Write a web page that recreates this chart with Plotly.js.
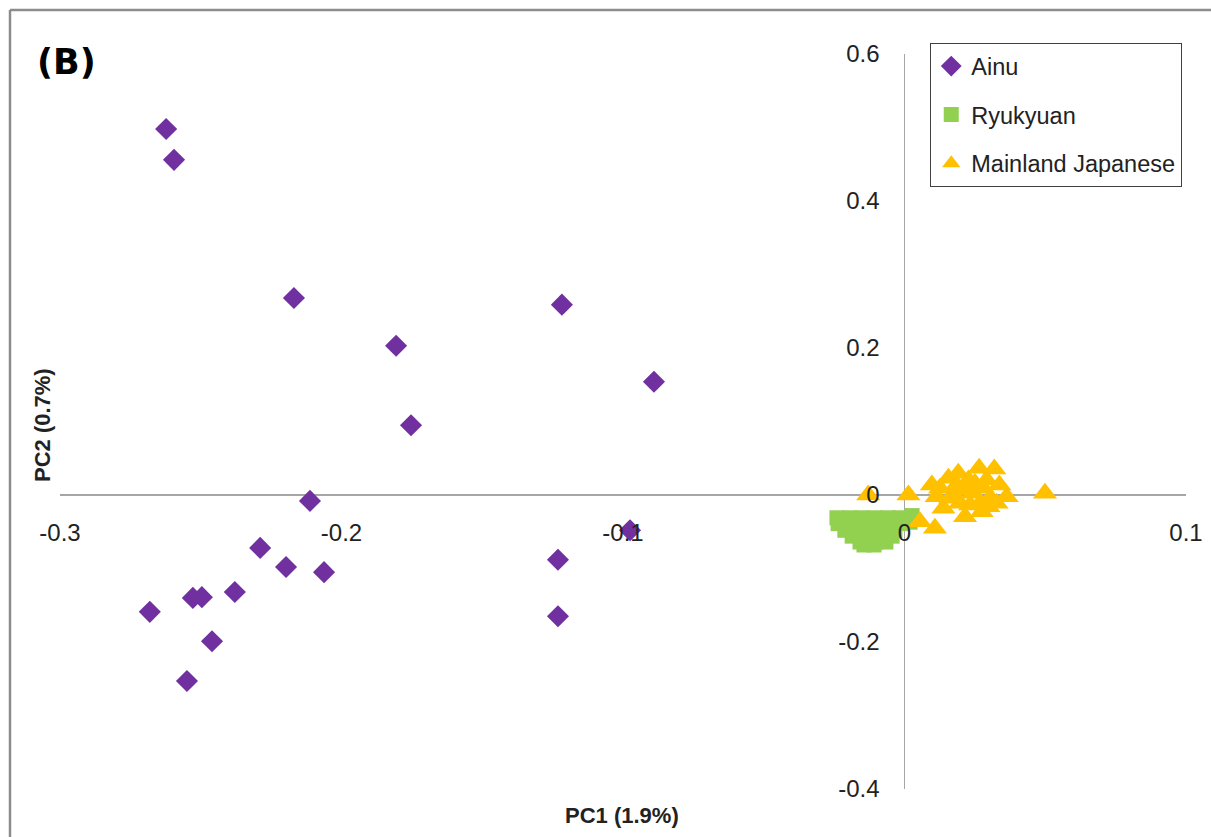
<!DOCTYPE html>
<html>
<head>
<meta charset="utf-8">
<script src="https://cdn.plot.ly/plotly-3.0.1.min.js"></script>
<style>html,body{margin:0;padding:0;background:#fff;}#chart{width:1211px;height:837px;}</style>
</head>
<body>
<div id="chart"></div>
<script>
// ---- Data ----
var ainuPC1 = [-0.2623, -0.2595, -0.2169, -0.1806, -0.1753, -0.1217, -0.0890,
               -0.2112, -0.0975, -0.1231, -0.1231,
               -0.2289, -0.2197, -0.2062, -0.2379, -0.2528, -0.2496, -0.2681, -0.2460, -0.2549];
var ainuPC2 = [0.498, 0.456, 0.268, 0.203, 0.095, 0.259, 0.154,
               -0.008, -0.048, -0.088, -0.165,
               -0.072, -0.098, -0.105, -0.132, -0.140, -0.139, -0.159, -0.199, -0.253];

var ryukyuanPC1 = [-0.0240, -0.0194, -0.0151, -0.0105, -0.0059, -0.0016, 0.0027,
                   -0.0236, -0.0201, -0.0165, -0.0130, -0.0094, -0.0052, -0.0009, 0.0020,
                   -0.0212, -0.0176, -0.0140, -0.0105, -0.0069, -0.0034,
                   -0.0186, -0.0151, -0.0115, -0.0080, -0.0044,
                   -0.0158, -0.0130, -0.0101, -0.0066,
                   -0.0144, -0.0108];
var ryukyuanPC2 = [-0.031, -0.031, -0.031, -0.031, -0.031, -0.031, -0.028,
                   -0.039, -0.039, -0.039, -0.039, -0.039, -0.039, -0.039, -0.037,
                   -0.048, -0.048, -0.048, -0.048, -0.048, -0.048,
                   -0.056, -0.056, -0.056, -0.056, -0.056,
                   -0.064, -0.064, -0.064, -0.064,
                   -0.068, -0.068];

var japanesePC1 = [0.0014, 0.0097, 0.0126, 0.0156, 0.0191, 0.0227, 0.0265, 0.0319, 0.0337, 0.0363,
                   0.0499, 0.0173, 0.0209, 0.0244, 0.0280, 0.0304, 0.0197, 0.0233, 0.0268, 0.0298,
                   0.0138, 0.0215, 0.0274, 0.0327, 0.0162, 0.0114, 0.0055, 0.0108, -0.0129, 0.0250,
                   0.0292, 0.0185];
var japanesePC2 = [0.000, 0.0136, 0.0091, 0.0227, 0.0295, 0.0204, 0.0363, 0.0354, 0.0136, -0.0023,
                   0.0023, 0.000, 0.0068, 0.0023, 0.0091, -0.0045, -0.0113, -0.0136, -0.0113, -0.0159,
                   -0.0181, -0.0295, -0.0227, -0.0113, -0.0045, -0.0023, -0.0363, -0.0454, 0.000, 0.0159,
                   0.0204, 0.0136];

var seriesNames = ['Ainu', 'Ryukyuan', 'Mainland Japanese'];
var xTickVals = [-0.3, -0.2, -0.1, 0, 0.1];
var xTickText = ['-0.3', '-0.2', '-0.1', '0', '0.1'];
var yTickVals = [-0.4, -0.2, 0, 0.2, 0.4, 0.6];
var yTickText = ['-0.4', '-0.2', '0', '0.2', '0.4', '0.6'];

var FONT = 'Liberation Sans, Arial, sans-serif';

var traces = [
  {x: ainuPC1, y: ainuPC2, name: seriesNames[0], type: 'scatter', mode: 'markers', legendgroup: 'a',
   marker: {symbol: 'diamond', size: 17, color: '#7030a0'}},
  {x: ryukyuanPC1, y: ryukyuanPC2, name: seriesNames[1], type: 'scatter', mode: 'markers', legendgroup: 'b',
   marker: {symbol: 'square', size: 15, color: '#92d050'}},
  {x: japanesePC1, y: japanesePC2, name: seriesNames[2], type: 'scatter', mode: 'markers', legendgroup: 'c',
   marker: {symbol: 'triangle-up', size: 21, color: '#ffc000'}}
];

var layout = {
  width: 1211, height: 837,
  margin: {l: 60, r: 25, t: 54, b: 48},
  paper_bgcolor: '#ffffff', plot_bgcolor: '#ffffff',
  showlegend: true,
  hovermode: false,
  font: {family: FONT, color: '#222222', size: 24},
  xaxis: {
    range: [-0.3, 0.1], domain: [0, 1], anchor: 'free', position: 0.4,
    tickvals: xTickVals, ticktext: xTickText, ticks: '', showgrid: false,
    showline: false, zeroline: true, zerolinecolor: '#a6a6a6', zerolinewidth: 1.3,
    tickfont: {family: FONT, size: 24, color: '#222222'}, ticklabelstandoff: 21
  },
  yaxis: {
    range: [-0.4, 0.6], domain: [0, 1], anchor: 'free', position: 0.75,
    tickvals: yTickVals, ticktext: yTickText, ticks: '', showgrid: false,
    showline: false, zeroline: true, zerolinecolor: '#a6a6a6', zerolinewidth: 1.3,
    tickfont: {family: FONT, size: 24, color: '#222222'}, ticklabelstandoff: 25
  },
  legend: {
    x: 0.7726, y: 1.015, xanchor: 'left', yanchor: 'top',
    bgcolor: '#ffffff', bordercolor: '#404040', borderwidth: 1.3,
    font: {family: FONT, size: 23.5, color: '#222222'},
    traceorder: 'grouped', tracegroupgap: 15, itemwidth: 30
  },
  annotations: [
    {text: '<b>(B)</b>', xref: 'paper', yref: 'paper', x: 0.0062, y: 0.989,
     xanchor: 'center', yanchor: 'middle', showarrow: false,
     font: {family: 'DejaVu Sans, sans-serif', size: 35, color: '#000000'}},
    {text: '<b>PC1 (1.9%)</b>', xref: 'paper', yref: 'paper', x: 0.499, y: -0.0354,
     xanchor: 'center', yanchor: 'middle', showarrow: false,
     font: {family: FONT, size: 22, color: '#222222'}},
    {text: '<b>PC2 (0.7%)</b>', xref: 'paper', yref: 'paper', x: -0.016, y: 0.4952,
     xanchor: 'center', yanchor: 'middle', showarrow: false, textangle: -90,
     font: {family: FONT, size: 22, color: '#222222'}}
  ],
  shapes: [
    {type: 'line', xref: 'paper', yref: 'paper', x0: -0.0444, x1: -0.0444, y0: 1.06, y1: -0.2,
     line: {color: '#8c8c8c', width: 2.5}},
    {type: 'line', xref: 'paper', yref: 'paper', x0: -0.0444, x1: 1.2, y0: 1.06, y1: 1.06,
     line: {color: '#8c8c8c', width: 2.5}}
  ]
};

Plotly.newPlot('chart', traces, layout, {displayModeBar: false, staticPlot: true});
</script>
</body>
</html>
